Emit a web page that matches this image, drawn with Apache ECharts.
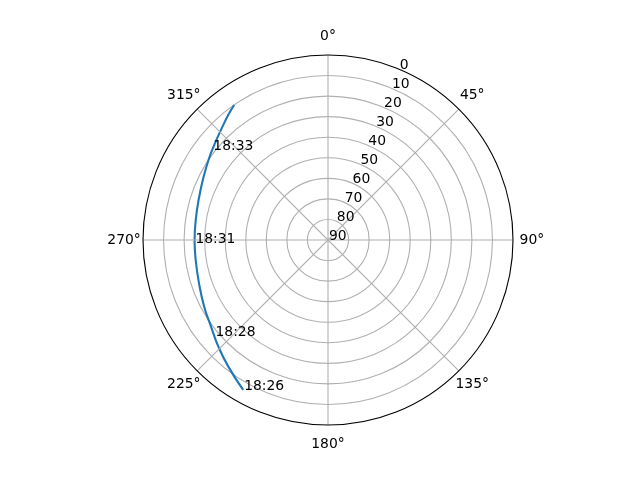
<!DOCTYPE html>
<html>
<head>
<meta charset="utf-8">
<script src="https://cdn.jsdelivr.net/npm/echarts@6/dist/echarts.min.js"></script>
<style>
html,body{margin:0;padding:0;background:#fff;}
#chart{width:640px;height:480px;}
</style>
</head>
<body>
<div id="chart"></div>
<script>
// Satellite pass track: azimuth (deg, clockwise from north) and elevation (deg)
const azimuth   = [209.5, 218.2, 225.8, 233.5, 241.7, 251.4, 261.4, 269.8, 279.3, 287.9, 296.3, 304.5, 310.6, 316.4, 321.4, 325.2];
const elevation = [6.2, 11.6, 15.6, 19.2, 21.6, 23.8, 24.9, 25.1, 24.9, 24.0, 22.3, 19.8, 17.6, 15.0, 12.2, 10.0];

// Time annotations along the track
const passTimes = ['18:26', '18:28', '18:31', '18:33'];
const timeAz    = [209.5, 229.6, 268.7, 307.9];
const timeEl    = [6.2, 17.5, 25.0, 18.7];

// Axis ticks
const angleTicks  = [0, 45, 90, 135, 180, 225, 270, 315];
const radialTicks = [0, 10, 20, 30, 40, 50, 60, 70, 80, 90];
const radialLabelAngle = 22.5;

const FONT = 'DejaVu Sans';
const FS = 13.9;
const ANGLE_LABEL_PAD = -9.2; // in elevation units, just outside the outer ring

const chart = echarts.init(document.getElementById('chart'), null, {renderer: 'canvas'});

const ringColors = radialTicks.map((v, i) => i === 0 ? 'rgba(0,0,0,0)' : '#b0b0b0');

const textLabel = (pos, align, vAlign) => ({
  show: true, position: pos, align: align, verticalAlign: vAlign,
  formatter: p => p.name,
  color: '#000', opacity: 1, fontFamily: FONT, fontSize: FS
});

chart.setOption({
  animation: false,
  backgroundColor: '#ffffff',
  polar: {center: [328, 240], radius: 185},
  angleAxis: {
    type: 'value',
    min: 0, max: 360, interval: 45,
    startAngle: 90, clockwise: true,
    z: 5,
    axisLine: {show: true, lineStyle: {color: '#000', width: 1.1}},
    axisTick: {show: false},
    axisLabel: {show: false},
    splitLine: {show: true, lineStyle: {color: '#b0b0b0', width: 1.1}}
  },
  radiusAxis: {
    type: 'value',
    min: 0, max: 90, interval: 10,
    inverse: true,
    axisLine: {show: false},
    axisTick: {show: false},
    axisLabel: {show: false},
    splitLine: {show: true, lineStyle: {color: ringColors, width: 1.1}}
  },
  series: [
    {
      type: 'line',
      coordinateSystem: 'polar',
      data: elevation.map((e, i) => [e, azimuth[i]]),
      showSymbol: false,
      smooth: true,
      lineStyle: {color: '#1f77b4', width: 2.1},
      z: 4
    },
    {
      type: 'scatter',
      coordinateSystem: 'polar',
      data: passTimes.map((t, i) => ({value: [timeEl[i], timeAz[i]], name: t})),
      symbolSize: 0,
      silent: true,
      itemStyle: {opacity: 1},
      label: textLabel([1, 3], 'left', 'bottom'),
      z: 6
    },
    {
      type: 'scatter',
      coordinateSystem: 'polar',
      data: radialTicks.map(r => ({value: [r, radialLabelAngle], name: String(r)})),
      symbolSize: 0,
      silent: true,
      itemStyle: {opacity: 1},
      label: textLabel([1, 3], 'left', 'bottom'),
      z: 6
    },
    {
      type: 'scatter',
      coordinateSystem: 'polar',
      clip: false,
      data: angleTicks.map(a => ({value: [ANGLE_LABEL_PAD, a], name: a + '°'})),
      symbolSize: 0,
      silent: true,
      itemStyle: {opacity: 1},
      label: textLabel([0, 0], 'center', 'middle'),
      z: 6
    }
  ]
});
</script>
</body>
</html>
